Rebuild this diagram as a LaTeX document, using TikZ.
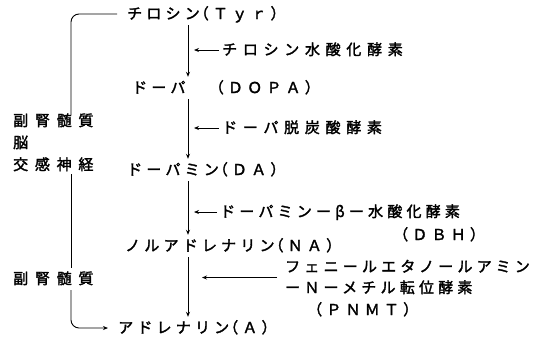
\documentclass[tikz,border=0pt]{standalone}
\usepackage{fontspec}
\setmainfont{Noto Sans CJK JP}[LetterSpace=28,FakeBold=2]
\newfontfamily\midfont{Noto Sans CJK JP}[LetterSpace=38,FakeBold=2]
\newfontfamily\widefont{Noto Sans CJK JP}[LetterSpace=45,FakeBold=2]
\usetikzlibrary{arrows.meta,calc}
\newcommand{\lp}{\kern-6bp（}
\begin{document}
\begin{tikzpicture}[x=1bp,y=-1bp,
  lbl/.style={anchor=west, inner xsep=0pt, inner ysep=4bp, text height=12bp, text depth=2bp,
    font=\fontsize{15bp}{17bp}\selectfont},
  enz/.style={lbl, font=\fontsize{15bp}{17bp}\midfont},
  side/.style={lbl, font=\fontsize{15bp}{17bp}\widefont},
  conn/.style={line width=0.9bp, -{Stealth[length=5bp,width=4bp]}},
  plain/.style={line width=0.9bp}]
\useasboundingbox (0,0) rectangle (534,345);
\coordinate (mx) at (188,0);
\coordinate (bx) at (71,0);
% compounds
\node[lbl] (tyr) at (127,14) {チロシン\lp Ｔｙｒ）};
\node[lbl] (dopa) at (132,88) {ドーパ　（ＤＯＰＡ）};
\node[lbl] (da) at (127,170) {ドーパミン\lp ＤＡ）};
\node[lbl] (na) at (125,246) {ノルアドレナリン\lp ＮＡ）};
\node[lbl] (adr) at (118,328) {アドレナリン\lp Ａ）};
% enzymes
\node[enz] (e1) at (222,50) {チロシン水酸化酵素};
\node[enz] (e2) at (222,128) {ドーパ脱炭酸酵素};
\node[lbl] (e3) at (220,212) {ドーパミンーβー水酸化酵素};
\node[lbl] (e3b) at (393,235) {（ＤＢＨ）};
\node[lbl] (p1) at (285,267) {フェニールエタノールアミン};
\node[lbl] (p2) at (285,288) {ーＮーメチル転位酵素};
\node[lbl] (p3) at (307,310) {（ＰＮＭＴ）};
% sites
\node[side] (s1) at (13,121) {副腎髄質};
\node[side] (s2) at (13,143) {脳};
\node[side] (s3) at (13,165) {交感神経};
\node[side] (s4) at (13,279) {副腎髄質};
% main pathway
\draw[conn] (tyr.south -| mx) -- (dopa.north -| mx);
\draw[conn] (dopa.south -| mx) -- (da.north -| mx);
\draw[conn] (da.south -| mx) -- (na.north -| mx);
\draw[conn] (na.south -| mx) -- (adr.north -| mx);
% enzyme arrows
\draw[conn, shorten <=3bp, shorten >=6bp] (e1.west) -- (e1.west -| mx);
\draw[conn, shorten <=3bp, shorten >=6bp] (e2.west) -- (e2.west -| mx);
\draw[conn, shorten <=3bp, shorten >=6bp] (e3.west) -- (e3.west -| mx);
\coordinate (pm) at ($(p1.west)!0.5!(p2.west)$);
\draw[conn, shorten <=8bp, shorten >=14bp] (pm) -- (pm -| mx);
% bracket
\draw[plain, rounded corners=8bp] ([xshift=-10bp]tyr.west) -| ([yshift=-5bp]s1.north -| bx);
\draw[plain] ([yshift=2bp]s3.south -| bx) -- (s4.north -| bx);
\draw[conn, rounded corners=8bp, shorten >=10bp] (s4.south -| bx) |- (adr.west);
\end{tikzpicture}
\end{document}
